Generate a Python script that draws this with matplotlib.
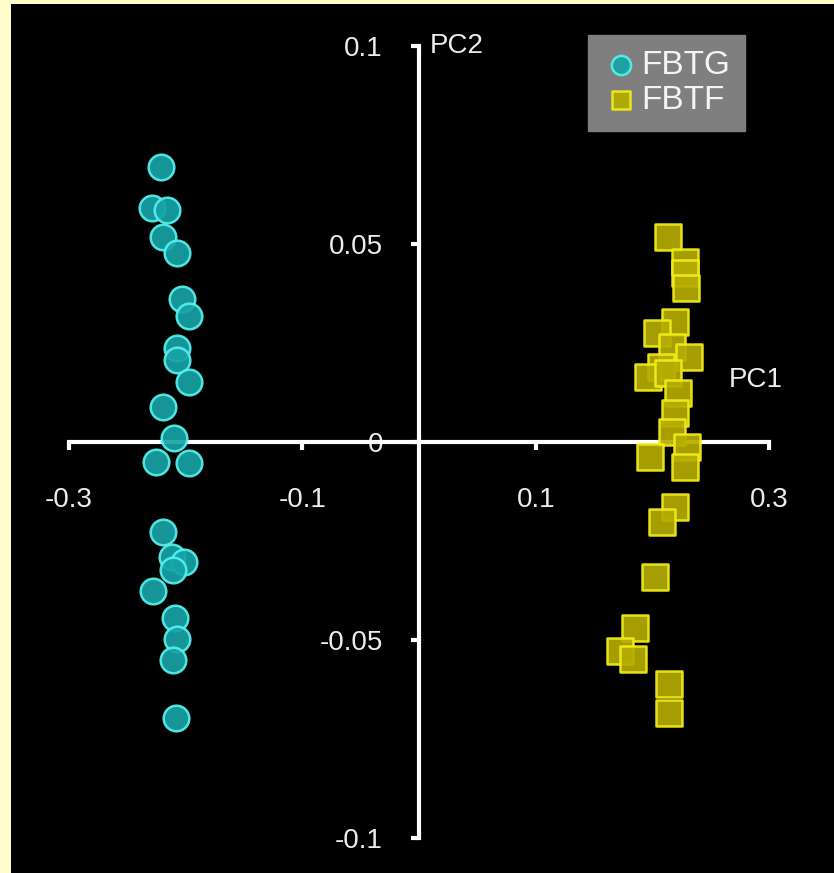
import numpy as np
import matplotlib
matplotlib.use("Agg")
import matplotlib.pyplot as plt

plt.rcParams['font.family'] = ['Liberation Sans', 'DejaVu Sans']

# PCA scores
fbtg_pc1 = [-0.221, -0.229, -0.216, -0.219, -0.207, -0.203, -0.197, -0.207, -0.207, -0.197,
            -0.219, -0.210, -0.225, -0.197, -0.219, -0.212, -0.201, -0.211, -0.228, -0.209,
            -0.207, -0.211, -0.208]
fbtg_pc2 = [0.0694, 0.0591, 0.0586, 0.0518, 0.0477, 0.0361, 0.0318, 0.0237, 0.0207, 0.0152,
            0.0088, 0.0010, -0.0051, -0.0053, -0.0227, -0.0290, -0.0303, -0.0323, -0.0376, -0.0444,
            -0.0497, -0.0551, -0.0697]
fbtf_pc1 = [0.213, 0.228, 0.228, 0.229, 0.219, 0.204, 0.217, 0.231, 0.207, 0.196,
            0.213, 0.222, 0.219, 0.217, 0.230, 0.198, 0.228, 0.219, 0.208, 0.202,
            0.185, 0.172, 0.183, 0.214, 0.214]
fbtf_pc2 = [0.0518, 0.0455, 0.0427, 0.0389, 0.0303, 0.0275, 0.0240, 0.0215, 0.0189, 0.0164,
            0.0174, 0.0124, 0.0073, 0.0025, -0.0013, -0.0038, -0.0063, -0.0164, -0.0202, -0.0341,
            -0.0470, -0.0528, -0.0548, -0.0611, -0.0684]

xticks = [-0.3, -0.1, 0.1, 0.3]
xlabels = ['-0.3', '-0.1', '0.1', '0.3']
yticks = [-0.1, -0.05, 0, 0.05, 0.1]
ylabels = ['-0.1', '-0.05', '0', '0.05', '0.1']

fig = plt.figure(figsize=(8.34, 8.73), dpi=100, facecolor='#ffffcc')
ax = fig.add_axes([11/834, 0, 823/834, 869/873])
ax.set_facecolor('black')

ax.scatter(fbtg_pc1, fbtg_pc2, s=340, marker='o', facecolor='#17a3a6', edgecolor='#55f2ee',
           linewidth=1.8, alpha=0.92, label='FBTG', zorder=3)
ax.scatter(fbtf_pc1, fbtf_pc2, s=330, marker='s', facecolor='#b5ad00', edgecolor='#f2ee18',
           linewidth=1.8, alpha=0.92, label='FBTF', zorder=3)

ax.set_xlim(-0.3496, 0.3556)
ax.set_ylim(-0.1088, 0.1106)

for s in ['top', 'right']:
    ax.spines[s].set_visible(False)
ax.spines['left'].set_position(('data', 0))
ax.spines['bottom'].set_position(('data', 0))
ax.spines['left'].set_bounds(-0.1, 0.1)
ax.spines['bottom'].set_bounds(-0.3, 0.3)
for s in ['left', 'bottom']:
    ax.spines[s].set_color('white')
    ax.spines[s].set_linewidth(3)
    ax.spines[s].set_zorder(2)

ax.set_xticks(xticks)
ax.set_xticklabels(xlabels)
ax.set_yticks(yticks)
ax.set_yticklabels(ylabels)
ax.tick_params(axis='x', direction='out', length=6, width=3, color='white',
               labelcolor='#ececec', labelsize=20, pad=26)
ax.tick_params(axis='y', direction='out', length=6, width=3, color='white',
               labelcolor='#ececec', labelsize=20, pad=20)

ax.text(0.009, 0.1, 'PC2', color='#ececec', fontsize=20, ha='left', va='center')
ax.text(0.265, 0.0157, 'PC1', color='#ececec', fontsize=20, ha='left', va='center')

leg = ax.legend(loc='upper left', bbox_to_anchor=(588/834, 1 - 35/873), bbox_transform=fig.transFigure,
                fontsize=24, frameon=True, fancybox=False, handletextpad=0.05, borderpad=0.45,
                labelspacing=0.12, handlelength=1.1, markerscale=0.75, borderaxespad=0)
leg.get_frame().set_facecolor('#7f7f7f')
leg.get_frame().set_edgecolor('#7f7f7f')
leg.get_frame().set_alpha(1)
for t in leg.get_texts():
    t.set_color('#f4f4f4')

fig.savefig('out.png', dpi=100, facecolor=fig.get_facecolor())
